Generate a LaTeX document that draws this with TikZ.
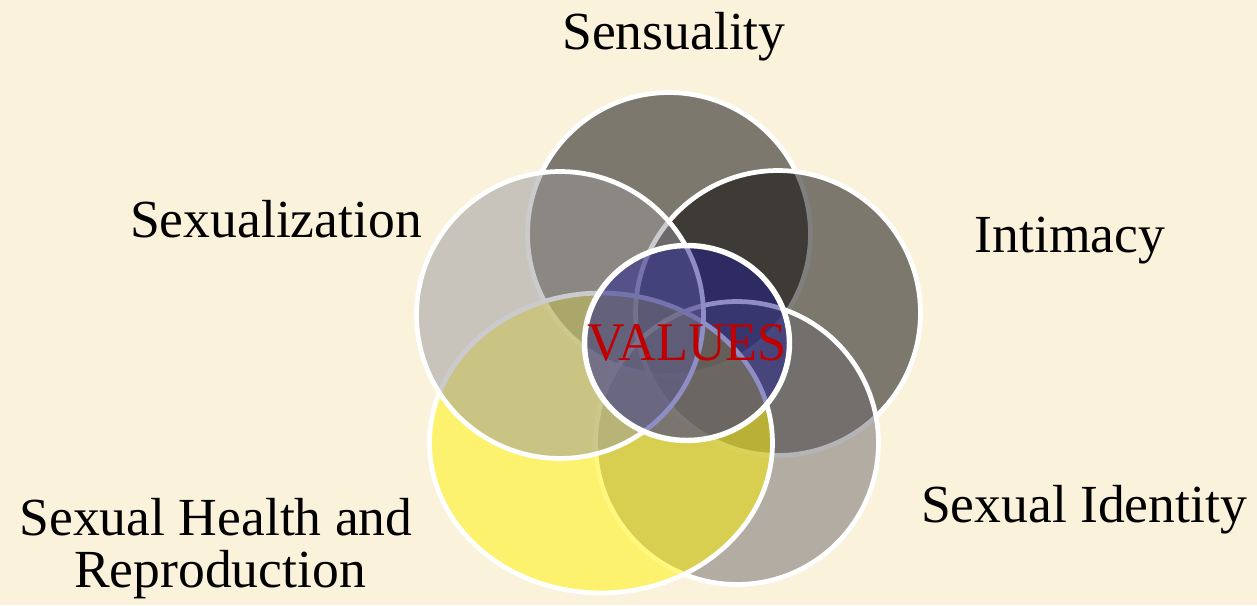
\documentclass[tikz,border=0pt]{standalone}
\usepackage{fontspec}
\setmainfont{Liberation Serif}
\usetikzlibrary{shapes.geometric}
\definecolor{parchment}{RGB}{251,242,219}
\definecolor{valuesred}{RGB}{192,0,0}
\definecolor{valuesblue}{RGB}{30,29,141}
\definecolor{palegrey}{RGB}{153,152,156}
\definecolor{darkgrey}{RGB}{106,104,109}
\tikzset{
    petal/.style={
        ellipse,
        draw=white,
        line width=2.7pt,
        fill opacity=0.5,
        text opacity=1,
        inner sep=0pt},
    topic/.style={
        anchor=base,
        inner sep=0pt,
        font=\fontsize{30.5}{36}\selectfont}}

\begin{document}
\begin{tikzpicture}[x=0.02cm,y=-0.02cm]
        \fill[parchment] (0,0) rectangle (1257,605);
        \useasboundingbox (0,0) rectangle (1257,605);

        \node[petal, fill=black, minimum width=5.66cm, minimum height=5.66cm] (sens) at (669,234) {};
        \node[petal, fill=black, minimum width=5.70cm, minimum height=5.70cm] (intim) at (778,313) {};
        \node[petal, fill=darkgrey, minimum width=5.66cm, minimum height=5.66cm] (ident) at (737,443) {};
        \node[petal, fill=yellow, minimum width=6.86cm, minimum height=6.0cm] (health) at (601,443) {};
        \node[petal, fill=palegrey, minimum width=5.74cm, minimum height=5.74cm] (sexz) at (560,315) {};
        \node[petal, fill=valuesblue, line width=3.1pt, minimum width=4.1cm, minimum height=3.9cm,
              text=valuesred, font=\fontsize{31}{36}\selectfont] (values) at (687,343)
              {\makebox[0pt]{\scalebox{0.96}[1]{VALUES}}};

        \node[topic] (tsens) at (674,50) {Sensuality};
        \node[topic] (tsexz) at (276,237) {Sexualization};
        \node[topic] (tintim) at (1070,252) {Intimacy};
        \node[topic] (tident) at (1084,522) {Sexual Identity};
        \node[topic] (thealth) at (216,535) {Sexual Health and};
        \node[topic] (trepro) at (220,587) {Reproduction};
    \end{tikzpicture}
\end{document}
